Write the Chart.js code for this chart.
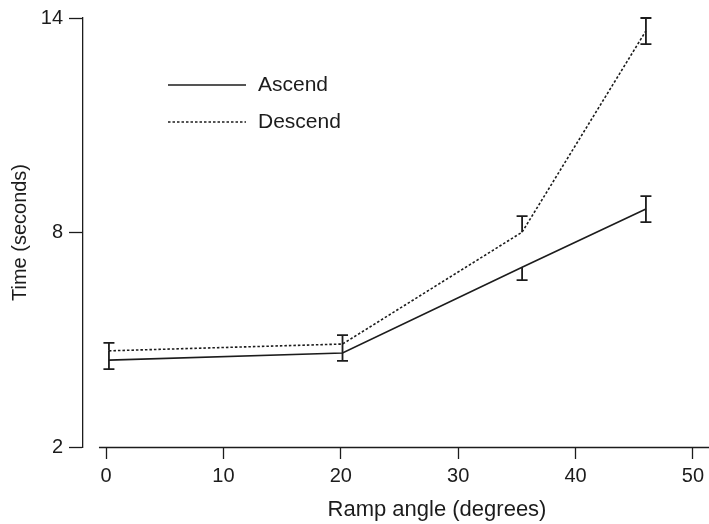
<!DOCTYPE html>
<html>
<head>
<meta charset="utf-8">
<script src="https://cdn.jsdelivr.net/npm/chart.js@4/dist/chart.umd.min.js"></script>
<style>
  body { margin: 0; background: #fff; }
</style>
</head>
<body>
<canvas id="chart" width="709" height="524"></canvas>
<script>
// Ramp angle vs time, with error bars
const angles = [0.25, 20.15, 35.45, 46.0];

const ascendTime = [4.43, 4.63, 7.03, 8.66];
const ascendLow = [4.18, 4.41, 6.67, 8.29];
const ascendHigh = [4.69, 4.88, 7.03, 9.02];

const descendTime = [4.69, 4.88, 8.01, 13.64];
const descendLow = [4.69, 4.88, 8.01, 13.27];
const descendHigh = [4.91, 5.13, 8.46, 14.0];

const xTicks = [0, 10, 20, 30, 40, 50];
const yTicks = [2, 8, 14];
const xTitle = "Ramp angle (degrees)";

const ink = "#1c1c1c";
const fontFamily = "'Liberation Sans', Arial, sans-serif";

function points(ys) {
    return angles.map((x, i) => ({ x: x, y: ys[i] }));
}

const errorBars = {
    id: "errorBars",
    afterDatasetsDraw(chart) {
        const ctx = chart.ctx;
        const xs = chart.scales.x, ys = chart.scales.y;
        const allValues = [ascendTime, descendTime];
        const bars = [[ascendLow, ascendHigh], [descendLow, descendHigh]];
        ctx.save();
        ctx.strokeStyle = ink;
        ctx.lineWidth = 1.8;
        bars.forEach(([low, high]) => {
            angles.forEach((a, i) => {
                if (high[i] - low[i] < 0.01) return;
                const px = xs.getPixelForValue(a);
                ctx.beginPath();
                ctx.moveTo(px, ys.getPixelForValue(low[i]));
                ctx.lineTo(px, ys.getPixelForValue(high[i]));
                // caps only on ends that don't sit on a line point
                [low[i], high[i]].forEach(v => {
                    if (allValues.some(s => Math.abs(s[i] - v) < 0.02)) return;
                    const py = ys.getPixelForValue(v);
                    ctx.moveTo(px - 5.5, py);
                    ctx.lineTo(px + 5.5, py);
                });
                ctx.stroke();
            });
        });
        ctx.restore();
    }
};

const extras = {
    id: "extras",
    afterDraw(chart) {
        const ctx = chart.ctx;
        const xs = chart.scales.x;
        const y = chart.chartArea.bottom + 0.5;
        ctx.save();
        ctx.strokeStyle = ink;
        ctx.lineWidth = 1.3;
        ctx.beginPath();
        ctx.moveTo(xs.getPixelForValue(-0.6), y);
        ctx.lineTo(chart.width, y);
        ctx.stroke();

        ctx.fillStyle = ink;
        ctx.font = "22px " + fontFamily;
        ctx.textAlign = "center";
        ctx.textBaseline = "middle";
        ctx.fillText(xTitle, 437, 510);

        // legend inside the plot
        ctx.font = "21px " + fontFamily;
        ctx.textAlign = "left";
        chart.data.datasets.forEach((ds, i) => {
            const ly = 85 + i * 37;
            ctx.beginPath();
            ctx.setLineDash(ds.borderDash || []);
            ctx.lineWidth = ds.borderWidth;
            ctx.moveTo(168, ly);
            ctx.lineTo(246, ly);
            ctx.stroke();
            ctx.setLineDash([]);
            ctx.fillText(ds.label, 258, ly);
        });
        ctx.restore();
    }
};

const ctx = document.getElementById("chart").getContext("2d");

new Chart(ctx, {
    type: "scatter",
    data: {
        datasets: [
            {
                label: "Ascend",
                data: points(ascendTime),
                showLine: true,
                borderColor: ink,
                borderWidth: 1.6,
                pointRadius: 0,
                tension: 0
            },
            {
                label: "Descend",
                data: points(descendTime),
                showLine: true,
                borderColor: ink,
                borderWidth: 1.6,
                borderDash: [2.5, 2],
                pointRadius: 0,
                tension: 0
            }
        ]
    },
    options: {
        responsive: false,
        animation: false,
        devicePixelRatio: 1,
        layout: { padding: { top: 18, right: 0, left: 0, bottom: 0 } },
        plugins: {
            legend: { display: false },
            tooltip: { enabled: false }
        },
        scales: {
            x: {
                type: "linear",
                min: -1.96,
                max: 51.28,
                afterBuildTicks: s => { s.ticks = xTicks.map(v => ({ value: v })); },
                afterFit: s => { s.height = 77; },
                grid: { drawOnChartArea: false, drawTicks: true, tickLength: 12, tickWidth: 1.3, tickColor: ink },
                border: { display: false },
                ticks: { padding: 5, color: ink, font: { family: fontFamily, size: 20 }, maxRotation: 0 }
            },
            y: {
                type: "linear",
                min: 2,
                max: 14,
                afterBuildTicks: s => { s.ticks = yTicks.map(v => ({ value: v })); },
                afterFit: s => { s.width = 83; },
                grid: { drawOnChartArea: false, drawTicks: true, tickLength: 14, tickWidth: 1.3, tickColor: ink },
                border: { display: true, color: ink, width: 1.3 },
                ticks: { padding: 6, color: ink, font: { family: fontFamily, size: 20 } },
                title: {
                    display: true,
                    text: "Time (seconds)",
                    color: ink,
                    font: { family: fontFamily, size: 20 },
                    padding: { top: 8, bottom: 0 }
                }
            }
        }
    },
    plugins: [errorBars, extras]
});
</script>
</body>
</html>
